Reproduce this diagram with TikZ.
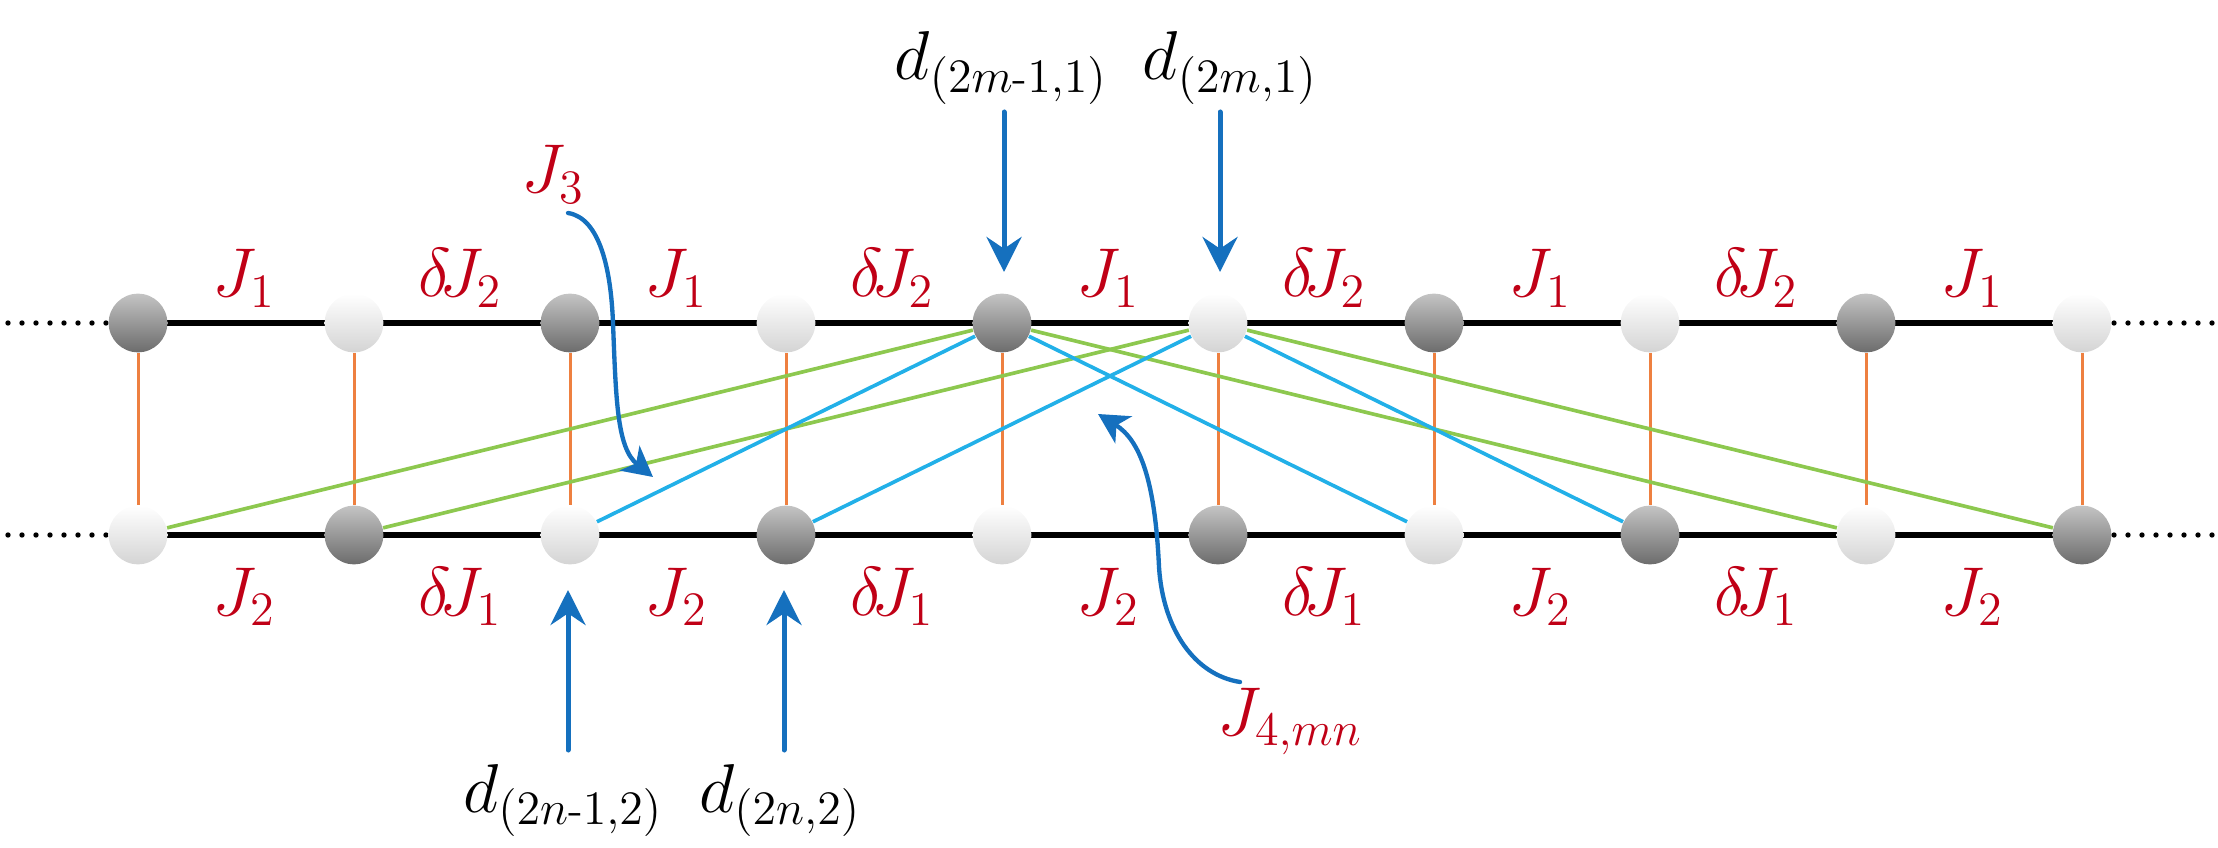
\documentclass[tikz,border=0pt]{standalone}
\usetikzlibrary{arrows.meta}
\definecolor{lblred}{RGB}{192,0,22}
\definecolor{arrblue}{RGB}{21,112,190}
\definecolor{linkgreen}{RGB}{141,200,79}
\definecolor{linkcyan}{RGB}{34,176,232}
\definecolor{rungorange}{RGB}{238,128,64}
\definecolor{darktop}{RGB}{196,196,196}
\definecolor{darkbot}{RGB}{108,108,108}
\definecolor{lightbot}{RGB}{212,212,212}
\newcommand\dsub[1]{_{\mbox{\fontsize{13.5}{14}\selectfont$#1$}}}
\pgfdeclarelayer{bg}
\pgfsetlayers{bg,main}
\begin{document}
\begin{tikzpicture}[x=0.3pt,y=-0.3pt,
  darkball/.style={circle,minimum size=17.6pt,inner sep=0pt,top color=darktop,bottom color=darkbot,draw=none},
  lightball/.style={circle,minimum size=17.6pt,inner sep=0pt,top color=white,bottom color=lightbot,draw=none},
  chainline/.style={line width=1.8pt,black},
  dotline/.style={line width=1.6pt,black,line cap=round,dash pattern=on 0pt off 4.2pt},
  rung/.style={line width=0.9pt,rungorange},
  glink/.style={line width=1.1pt,linkgreen},
  clink/.style={line width=1.1pt,linkcyan},
  darrow/.style={line width=1.5pt,arrblue,line cap=round,-{Stealth[length=10.5pt,width=10.5pt,inset=3.5pt]}},
  carrow/.style={line width=1.3pt,arrblue,line cap=round,-{Stealth[length=9pt,width=9.5pt,inset=2.5pt]}},
  jlabel/.style={text=lblred,anchor=base,inner sep=0pt,font=\fontsize{21.6}{24}\selectfont},
  dlabel/.style={text=black,anchor=base,inner sep=0pt,font=\fontsize{21}{24}\selectfont}]
\useasboundingbox (0,0) rectangle (2218,848);

% sites
\foreach \i in {0,...,9}{
  \pgfmathtruncatemacro\xx{138+216*\i}
  \ifodd\i
    \node[lightball] (t\i) at (\xx,323) {};
    \node[darkball] (b\i) at (\xx,535) {};
  \else
    \node[darkball] (t\i) at (\xx,323) {};
    \node[lightball] (b\i) at (\xx,535) {};
  \fi
}

\coordinate (tl) at (8,323);
\coordinate (bl) at (8,535);
\coordinate (tr) at (2212,323);
\coordinate (br) at (2212,535);

\begin{pgfonlayer}{bg}
  \draw[chainline] (t0.center) -- (t9.center);
  \draw[chainline] (b0.center) -- (b9.center);
  \draw[dotline] (tl) -- (t0.west);
  \draw[dotline] (bl) -- (b0.west);
  \draw[dotline] (tr) -- (t9.east);
  \draw[dotline] (br) -- (b9.east);
  \foreach \i in {0,...,9}{ \draw[rung] (t\i) -- (b\i); }
  \draw[glink] (t4) -- (b0);
  \draw[glink] (t4) -- (b8);
  \draw[glink] (t5) -- (b1);
  \draw[glink] (t5) -- (b9);
  \draw[clink] (t4) -- (b2);
  \draw[clink] (t4) -- (b6);
  \draw[clink] (t5) -- (b3);
  \draw[clink] (t5) -- (b7);
\end{pgfonlayer}

% bond labels
\foreach \i in {0,...,8}{
  \pgfmathtruncatemacro\mx{138+216*\i+106}
  \ifodd\i
    \node[jlabel] (up\i) at (\mx,297) {$\delta\!J_2$};
    \node[jlabel] (lo\i) at (\mx,615) {$\delta\!J_1$};
  \else
    \node[jlabel] (up\i) at (\mx,297) {$J_1$};
    \node[jlabel] (lo\i) at (\mx,615) {$J_2$};
  \fi
}

% d labels and arrows
\node[dlabel] (d1) at (1001,80) {$d\dsub{(2m\mbox{-}1{,}1)}$};
\node[dlabel] (d2) at (1230,80) {$d\dsub{(2m{,}1)}$};
\node[dlabel] (d3) at (563,812) {$d\dsub{(2n\mbox{-}1{,}2)}$};
\node[dlabel] (d4) at (780,812) {$d\dsub{(2n{,}2)}$};

\coordinate (a1s) at (1004,112); \coordinate (a1e) at (1004,272);
\coordinate (a2s) at (1220,112); \coordinate (a2e) at (1220,272);
\coordinate (a3s) at (568,750);  \coordinate (a3e) at (568,590);
\coordinate (a4s) at (784,750);  \coordinate (a4e) at (784,590);
\draw[darrow] (a1s) -- (a1e);
\draw[darrow] (a2s) -- (a2e);
\draw[darrow] (a3s) -- (a3e);
\draw[darrow] (a4s) -- (a4e);

% J3 and J4 curved pointers
\node[jlabel] (j3) at (553,193) {$J_3$};
\node[jlabel] (j4) at (1290,735) {$J_{4{,}mn}$};
\coordinate (j3s) at (568,213);
\coordinate (j3e) at (653,477);
\draw[carrow] (j3s) .. controls (600,218) and (611,270) .. (613,323)
              .. controls (616,400) and (617,448) .. (j3e);
\coordinate (j4s) at (1240,682);
\coordinate (j4e) at (1098,414);
\draw[carrow] (j4s) .. controls (1195,675) and (1163,630) .. (1159,567)
              .. controls (1155,480) and (1140,440) .. (j4e);
\end{tikzpicture}
\end{document}
